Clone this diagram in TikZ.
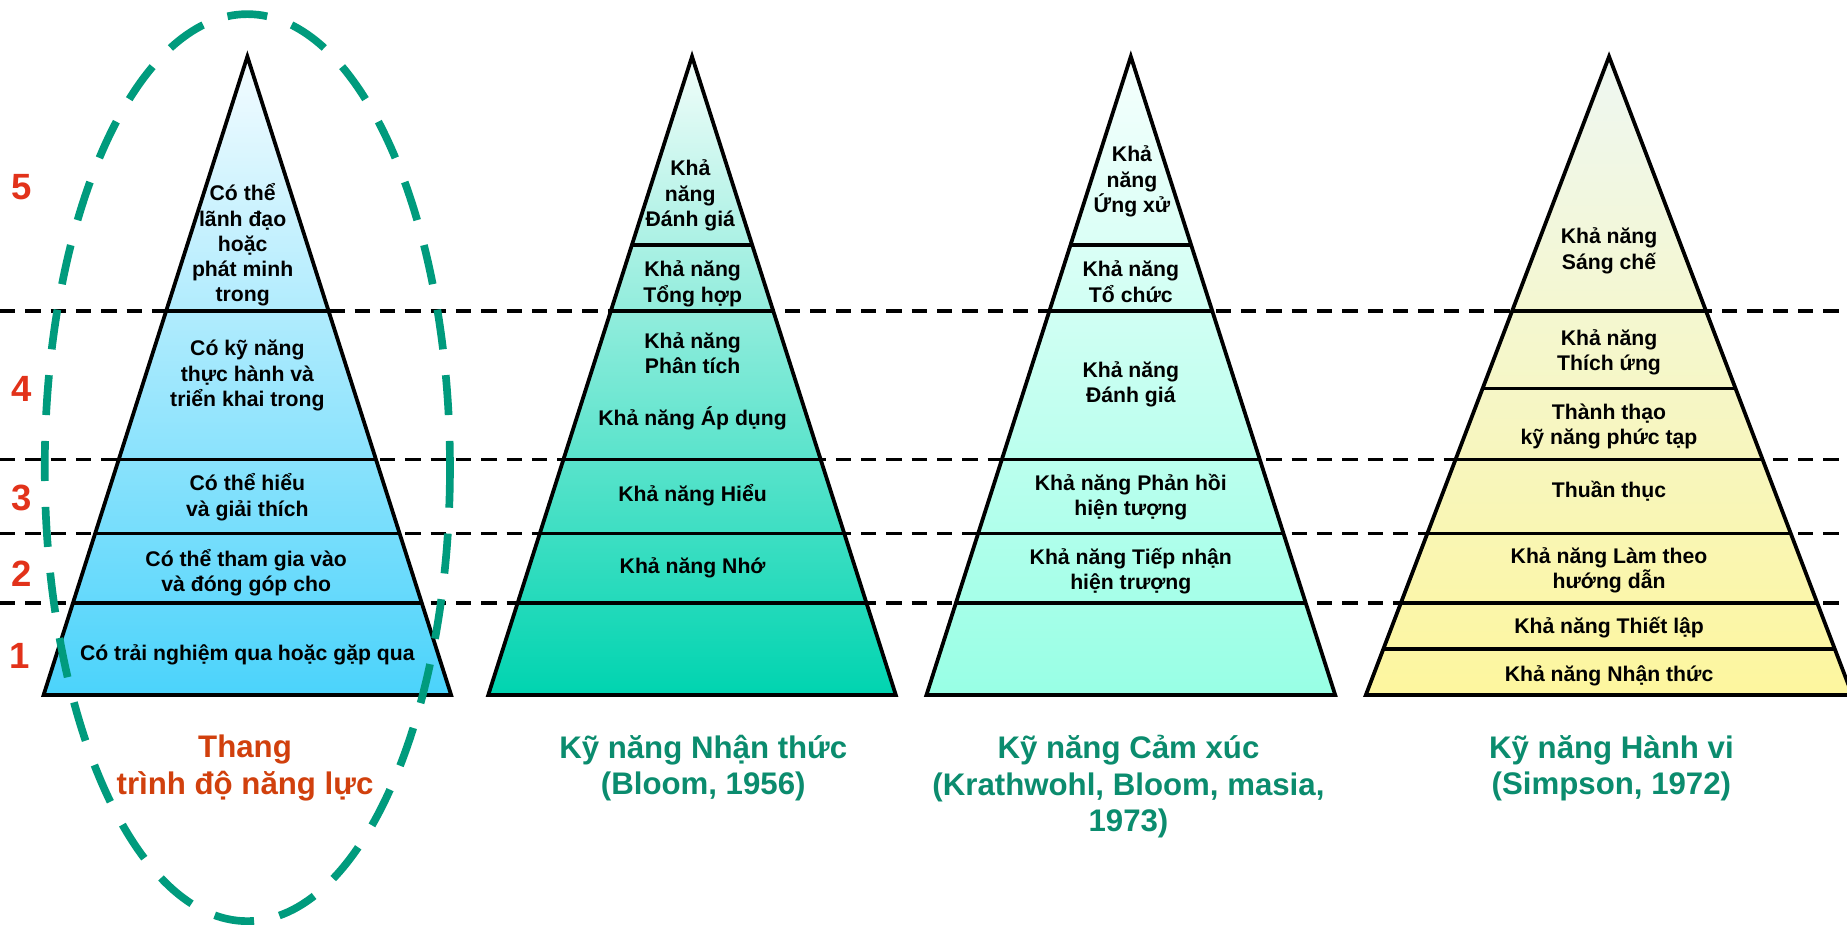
\documentclass[tikz,border=0pt]{standalone}
\usepackage{fontspec}
\setmainfont{Liberation Sans}
\usetikzlibrary{calc}
\definecolor{numred}{HTML}{E2321A}
\definecolor{titred}{HTML}{D1400D}
\definecolor{titgreen}{HTML}{0B8C6E}
\definecolor{ellgreen}{HTML}{009B7D}
\definecolor{pAtop}{HTML}{F4FCFF}
\definecolor{pAbot}{HTML}{4BD3FB}
\definecolor{pBtop}{HTML}{F2FDFA}
\definecolor{pBbot}{HTML}{00D4B0}
\definecolor{pCtop}{HTML}{F6FFFD}
\definecolor{pCbot}{HTML}{98FFE5}
\definecolor{pDtop}{HTML}{EEF7F2}
\definecolor{pDbot}{HTML}{FDF69E}
\tikzset{
  hdash/.style={line width=3pt, dash pattern=on 13pt off 8.5pt, black},
  secline/.style={line width=3pt, black},
  pyrline/.style={line width=3.2pt, black, line join=miter},
  lbl/.style={font=\fontsize{18}{21.5}\selectfont\bfseries, align=center, text=black, inner sep=0pt},
  num/.style={font=\fontsize{31}{31}\selectfont\bfseries, text=numred, inner sep=0pt},
  ttl/.style={font=\fontsize{26.5}{31}\selectfont\bfseries, align=center, inner sep=0pt},
  ell/.style={line width=6.5pt, ellgreen, dash pattern=on 34pt off 22pt},
}
\newcommand{\mypyr}[6]{%
  % #1 name, #2 apex x, #3 half width, #4 top colour, #5 bottom colour, #6 section ys
  \coordinate (#1-apex) at (#2,48);
  \coordinate (#1-bl) at (#2-#3,590);
  \coordinate (#1-br) at (#2+#3,590);
  \shade[top color=#4, bottom color=#5] (#1-apex) -- (#1-bl) -- (#1-br) -- cycle;
  \foreach \yy [evaluate=\yy as \hh using #3/542*(\yy-48)] in {#6}
    \draw[secline] (#2-\hh,\yy) -- (#2+\hh,\yy);
  \draw[pyrline] (#1-apex) -- (#1-bl) -- (#1-br) -- cycle;
}
\begin{document}
\begin{tikzpicture}[x=1pt,y=-1pt]
\useasboundingbox (0,0) rectangle (1568,785);
\fill[white] (0,0) rectangle (1568,785);
\foreach \yy in {264,390,453,512}
  \draw[hdash] (0,\yy) -- (1568,\yy);

\mypyr{A}{210}{173}{pAtop}{pAbot}{264,390,453,512}
\mypyr{B}{587.5}{173}{pBtop}{pBbot}{208,264,390,453,512}
\mypyr{C}{960}{173.5}{pCtop}{pCbot}{208,264,390,453,512}
\mypyr{D}{1366}{206.5}{pDtop}{pDbot}{264,330,390,453,512,551}

% level numbers
\node[num] (n5) at (18,159) {5};
\node[num] (n4) at (18,330) {4};
\node[num] (n3) at (18,423) {3};
\node[num] (n2) at (18,487) {2};
\node[num] (n1) at (17,557) {1};

% pyramid A
\node[lbl] (a5) at (206,208) {Có thể\\lãnh đạo\\hoặc\\phát minh\\trong};
\node[lbl] (a4) at (210,319) {Có kỹ năng\\thực hành và\\triển khai trong};
\node[lbl] (a3) at (210,422) {Có thể hiểu\\và giải thích};
\node[lbl] (a2) at (209,486) {Có thể tham gia vào\\và đóng góp cho};
\node[lbl] (a1) at (210,556) {Có trải nghiệm qua hoặc gặp qua};

% pyramid B
\node[lbl] (b6) at (586,166) {Khả\\năng\\Đánh giá};
\node[lbl] (b5) at (588,241) {Khả năng\\Tổng hợp};
\node[lbl] (b4) at (588,300) {Khả năng\\Phân tích};
\node[lbl] (b3) at (588,355) {Khả năng Áp dụng};
\node[lbl] (b2) at (588,420) {Khả năng Hiểu};
\node[lbl] (b1) at (588,482) {Khả năng Nhớ};

% pyramid C
\node[lbl] (c5) at (961,154) {Khả\\năng\\Ứng xử};
\node[lbl] (c4) at (960,239) {Khả năng\\Tổ chức};
\node[lbl] (c3) at (960,326) {Khả năng\\Đánh giá};
\node[lbl] (c2) at (960,422) {Khả năng Phản hồi\\hiện tượng};
\node[lbl] (c1) at (960,485) {Khả năng Tiếp nhận\\hiện trượng};

% pyramid D
\node[lbl] (d7) at (1366,213) {Khả năng\\Sáng chế};
\node[lbl] (d6) at (1366,299) {Khả năng\\Thích ứng};
\node[lbl] (d5) at (1366,362) {Thành thạo\\kỹ năng phức tạp};
\node[lbl] (d4) at (1366,417) {Thuần thục};
\node[lbl] (d3) at (1366,484) {Khả năng Làm theo\\hướng dẫn};
\node[lbl] (d2) at (1366,533) {Khả năng Thiết lập};
\node[lbl] (d1) at (1366,574) {Khả năng Nhận thức};

% titles
\node[ttl, text=titred] (tA) at (208,652) {Thang\\trình độ năng lực};
\node[ttl, text=titgreen] (tB) at (597,652) {Kỹ năng Nhận thức\\(Bloom, 1956)};
\node[ttl, text=titgreen] (tC) at (958,668) {Kỹ năng Cảm xúc\\(Krathwohl, Bloom, masia,\\1973)};
\node[ttl, text=titgreen] (tD) at (1368,652) {Kỹ năng Hành vi\\(Simpson, 1972)};

% dashed ellipse
\draw[ell] (210,397) ellipse [x radius=172, y radius=385];
\end{tikzpicture}
\end{document}
